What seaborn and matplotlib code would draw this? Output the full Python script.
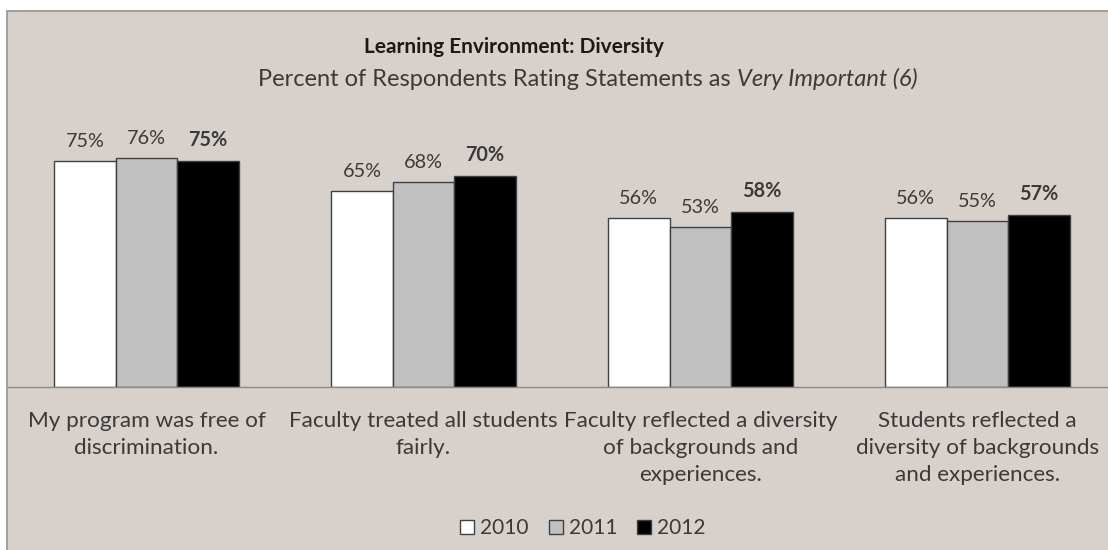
import pandas as pd
import matplotlib.pyplot as plt
import matplotlib.patches as mpatches
from matplotlib.ticker import FixedLocator
import seaborn as sns

statements = [
    "My program was free of\ndiscrimination.",
    "Faculty treated all students\nfairly.",
    "Faculty reflected a diversity\nof backgrounds and\nexperiences.",
    "Students reflected a\ndiversity of backgrounds\nand experiences.",
]
years = ["2010", "2011", "2012"]
pct_2010 = [75, 65, 56, 56]
pct_2011 = [76, 68, 53, 55]
pct_2012 = [75, 70, 58, 57]

bar_colors = {"2010": "#FFFFFF", "2011": "#C0C0C0", "2012": "#000000"}
bg = "#D8D0CB"
txt = "#3A3A3A"

df = pd.DataFrame({
    "statement": statements * 3,
    "year": ["2010"] * 4 + ["2011"] * 4 + ["2012"] * 4,
    "pct": pct_2010 + pct_2011 + pct_2012,
})

sns.set_style("white")
plt.rcParams["font.family"] = ["Lato", "DejaVu Sans"]

W, H = 1108, 550
fig = plt.figure(figsize=(W / 100, H / 100), dpi=100, facecolor="white")

# chart area background with thin border on top/left
frame = mpatches.Rectangle((7 / W, -0.02), 1.0, (H - 11) / H + 0.02,
                           transform=fig.transFigure, facecolor=bg,
                           edgecolor="#9A9A9A", lw=1.3, zorder=-1)
fig.patches.append(frame)

ax = fig.add_axes([8 / W, (H - 387) / H, 1108 / W, 301 / H])
ax.set_facecolor("none")

sns.barplot(data=df, x="statement", y="pct", hue="year", palette=bar_colors,
            width=0.667, edgecolor="#404040", linewidth=1.0, ax=ax,
            legend=False, errorbar=None)

ax.set_xlim(-0.5, 3.5)
ax.set_ylim(0, 100)
ax.set_yticks([])
ax.set_xlabel("")
ax.set_ylabel("")

for i, cont in enumerate(ax.containers):
    ax.bar_label(cont, fmt="%d%%", padding=8, fontsize=14.3, color=txt,
                 fontweight="bold" if years[i] == "2012" else "normal")

for s in ["top", "right", "left"]:
    ax.spines[s].set_visible(False)
ax.spines["bottom"].set_color("#8A8A8A")
ax.spines["bottom"].set_linewidth(1.0)

ax.tick_params(axis="x", which="major", length=0, pad=17, labelsize=16.2,
               labelcolor=txt)
for lab in ax.get_xticklabels():
    lab.set_linespacing(1.46)
ax.xaxis.set_minor_locator(FixedLocator([-0.5, 0.5, 1.5, 2.5, 3.5]))
ax.tick_params(axis="x", which="minor", length=5, width=1.0,
               color="#8A8A8A", direction="out")

# titles
fig.text(514 / W, 1 - 47 / H, "Learning Environment: Diversity",
         ha="center", va="center", fontsize=15, fontweight="bold", color="#1A1A1A")
fig.text(731 / W, 1 - 79 / H, "Percent of Respondents Rating Statements as",
         ha="right", va="center", fontsize=17, color=txt)
fig.text(737 / W, 1 - 79 / H, "Very Important (6)",
         ha="left", va="center", fontsize=17, style="italic", color=txt)

handles = [mpatches.Patch(facecolor=bar_colors[y], edgecolor="#404040", lw=1.0)
           for y in years]
fig.legend(handles, years, loc="center", bbox_to_anchor=(583 / W, 1 - 528 / H),
           ncol=3, frameon=False, fontsize=15, handlelength=0.67,
           handleheight=0.67, handletextpad=0.3, columnspacing=0.95,
           labelcolor=txt)

fig.savefig("out.png", dpi=100, facecolor="white")
